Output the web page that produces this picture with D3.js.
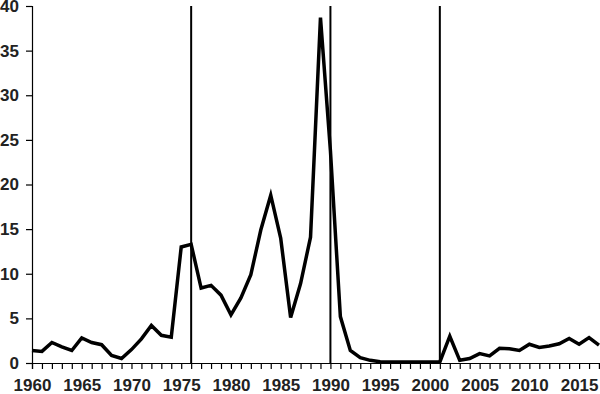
<!DOCTYPE html>
<html>
<head>
<meta charset="utf-8">
<script src="https://cdn.jsdelivr.net/npm/d3@7"></script>
<style>
  body { margin: 0; background: #fff; }
</style>
</head>
<body>
<svg width="600" height="394"></svg>
<script>
var years = d3.range(1960, 2018);
var values = [1.4, 1.3, 2.3, 1.8, 1.4, 2.8, 2.3, 2.05, 0.85, 0.5,
              1.5, 2.7, 4.2, 3.1, 2.9, 13.0, 13.3, 8.4, 8.7, 7.6,
              5.4, 7.3, 9.9, 14.9, 18.8, 14.0, 5.1, 8.9, 14.1, 38.7,
              23.8, 5.2, 1.4, 0.6, 0.3, 0.15, 0.1, 0.1, 0.1, 0.1,
              0.1, 0.12, 3.0, 0.3, 0.5, 1.05, 0.8, 1.65, 1.6, 1.4,
              2.1, 1.75, 1.9, 2.15, 2.75, 2.1, 2.85, 2.0];
var eventYears = [1976, 1990, 2001];
var yTicks = [0, 5, 10, 15, 20, 25, 30, 35, 40];

var svg = d3.select("svg");

var x = d3.scaleLinear().domain([1960, 2017]).range([32, 599]);
var y = d3.scaleLinear().domain([0, 40]).range([363, 6]);

var data = years.map(function(d, i) { return {year: d, value: values[i]}; });

// event lines
svg.append("g")
  .selectAll("line")
  .data(eventYears)
  .enter().append("line")
  .attr("x1", function(d) { return x(d); })
  .attr("x2", function(d) { return x(d); })
  .attr("y1", y(40))
  .attr("y2", y(0))
  .attr("stroke", "#000")
  .attr("stroke-width", 2);

var line = d3.line()
  .x(function(d) { return x(d.year); })
  .y(function(d) { return y(d.value); });

svg.append("path")
  .datum(data)
  .attr("fill", "none")
  .attr("stroke", "#000")
  .attr("stroke-width", 3.5)
  .attr("stroke-linejoin", "miter")
  .attr("d", line);

var xAxis = svg.append("g")
  .attr("transform", "translate(0," + y(0) + ")")
  .call(d3.axisBottom(x)
    .tickValues(years)
    .tickSize(6)
    .tickPadding(10)
    .tickFormat(function(d) { return d % 5 == 0 ? d : ""; }));

var yAxis = svg.append("g")
  .attr("transform", "translate(" + x(1960) + ",0)")
  .call(d3.axisLeft(y)
    .tickValues(yTicks)
    .tickSize(6)
    .tickPadding(7));

svg.selectAll("g")
  .attr("font-family", "'Liberation Sans', Arial, sans-serif")
  .attr("font-size", 17)
  .attr("font-weight", "bold");
svg.selectAll(".domain").attr("stroke-width", 1.2);
svg.selectAll(".tick line").attr("stroke-width", 1.2);
svg.selectAll(".tick text").attr("fill", "#222");
</script>
</body>
</html>
